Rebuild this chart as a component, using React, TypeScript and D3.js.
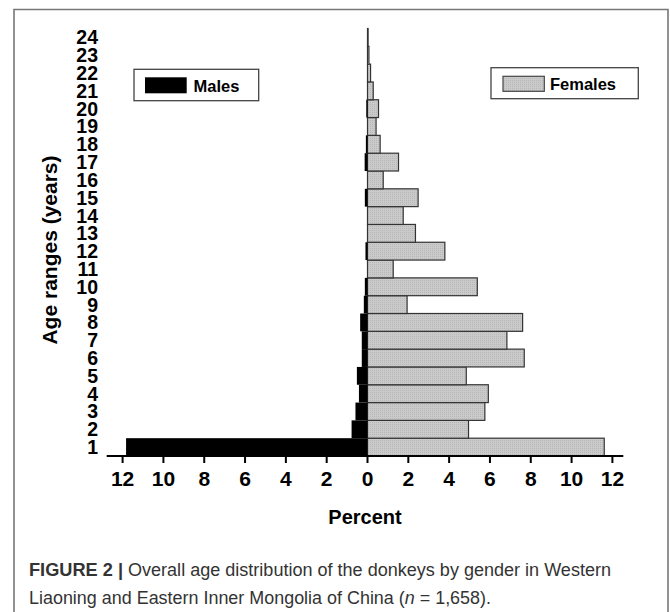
import React from 'react';
import * as d3 from 'd3';

// age classes (years) and percent of each sex
const ages = d3.range(1, 25);
const males = [11.83, 0.78, 0.59, 0.42, 0.52, 0.28, 0.28, 0.36, 0.18, 0.13, 0, 0.1, 0, 0, 0.13, 0, 0.14, 0.08, 0, 0.06, 0, 0, 0, 0];
const females = [11.6, 4.95, 5.75, 5.92, 4.84, 7.68, 6.83, 7.6, 1.94, 5.38, 1.26, 3.79, 2.35, 1.75, 2.48, 0.77, 1.52, 0.62, 0.42, 0.54, 0.28, 0.15, 0.07, 0.03];
const xTicks = [-12, -10, -8, -6, -4, -2, 0, 2, 4, 6, 8, 10, 12];

const W = 670;
const H = 612;
const bold = { fontFamily: 'Liberation Sans, Arial, sans-serif', fontWeight: 700 };

const App = () => {
    const x = d3.scaleLinear().domain([-12, 12]).range([122.6, 612.4]);
    const y = d3.scaleBand<number>().domain(ages).range([456, 28.5]).padding(0);
    const bw = y.bandwidth();

    return (
        <svg width={W} height={H} style={{ position: 'absolute', left: 0, top: 0, background: '#fff' }}>
            <defs>
                <pattern id="dots" width="2" height="2" patternUnits="userSpaceOnUse">
                    <rect width="2" height="2" fill="#cacaca" />
                    <rect width="1" height="1" fill="#b8b8b8" />
                </pattern>
            </defs>
            {/* outer frame */}
            <path d={`M14,${H + 2} V9.5 H668 V${H + 2}`} fill="none" stroke="#777" strokeWidth={1.6} />

            {/* female bars */}
            {females.map((v, i) => (
                <rect key={'f' + i}
                    x={x(0)} y={y(ages[i])} width={x(v) - x(0)} height={bw}
                    fill="url(#dots)" stroke="#333" strokeWidth={1.2} />
            ))}
            {/* male bars */}
            {males.map((v, i) => v > 0 && (
                <rect key={'m' + i}
                    x={x(-v)} y={y(ages[i])} width={x(0) - x(-v)} height={bw}
                    fill="#000" />
            ))}

            {/* x axis */}
            <line x1={106.7} x2={623.3} y1={456} y2={456} stroke="#000" strokeWidth={2} />
            {xTicks.map(t => (
                <g key={t} transform={`translate(${x(t)},456)`}>
                    <line y1={0} y2={7} stroke="#000" strokeWidth={2} />
                    <text y={30} textAnchor="middle" fontSize={21} {...bold}>{Math.abs(t)}</text>
                </g>
            ))}
            <text x={365} y={524} textAnchor="middle" fontSize={20} {...bold}>Percent</text>

            {/* y labels */}
            {ages.map(a => (
                <text key={a} x={98} y={y(a)! + bw / 2 + 7} textAnchor="end" fontSize={19.5} {...bold}>{a}</text>
            ))}
            <text transform="translate(57,250) rotate(-90)" textAnchor="middle" fontSize={21} {...bold}>Age ranges (years)</text>

            {/* legends */}
            <rect x={134} y={69.3} width={124.7} height={31.4} fill="#fff" stroke="#444" strokeWidth={1.3} />
            <rect x={145} y={77.3} width={41.7} height={16} fill="#000" />
            <text x={193.5} y={91.5} fontSize={16.5} {...bold}>Males</text>

            <rect x={491} y={67.7} width={147.3} height={31} fill="#fff" stroke="#444" strokeWidth={1.3} />
            <rect x={503} y={76.3} width={41.3} height={15} fill="url(#dots)" stroke="#444" strokeWidth={1.2} />
            <text x={550} y={90} fontSize={16.5} {...bold}>Females</text>

            {/* caption */}
            <text x={29} y={576} fontSize={17.5} fill="#333" fontFamily="Liberation Sans, Arial, sans-serif">
                <tspan fontWeight={700} textLength={94} lengthAdjust="spacingAndGlyphs">FIGURE 2 |</tspan>
                <tspan x={128} textLength={483} lengthAdjust="spacingAndGlyphs" fontWeight={300}>Overall age distribution of the donkeys by gender in Western</tspan>
            </text>
            <text x={29} y={604} fontSize={17.5} fill="#333" fontFamily="Liberation Sans, Arial, sans-serif" textLength={462} lengthAdjust="spacingAndGlyphs">
                Liaoning and Eastern Inner Mongolia of China (<tspan fontStyle="italic">n</tspan> = 1,658).
            </text>
        </svg>
    );
};

export default App;
